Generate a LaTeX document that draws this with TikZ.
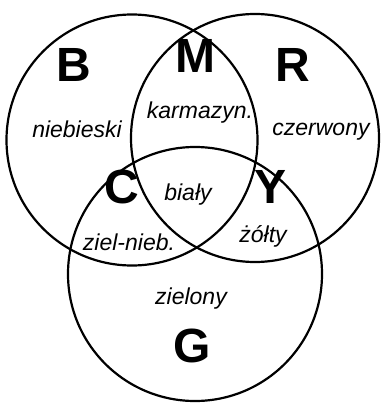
\documentclass[tikz,border=0pt]{standalone}
\usepackage{fontspec}
\setmainfont{Liberation Sans}
\begin{document}
\begin{tikzpicture}[x=1pt,y=-1pt,
  ring/.style={draw=black,line width=2.2pt},
  big/.style={font=\fontsize{48}{50}\selectfont\bfseries,anchor=base,inner sep=0pt},
  region/.style={font=\fontsize{23}{26}\selectfont\itshape,anchor=base,inner sep=0pt}]
  \useasboundingbox[fill=white] (0,0) rectangle (382,407);
  % three colour circles
  \draw[ring] (132,140) circle[radius=125.5];
  \draw[ring] (255,138) circle[radius=124];
  \draw[ring] (195,274) circle[radius=127];
  % primary and secondary letters
  \node[big] (B) at (74,81) {B};
  \node[big] (M) at (195,72) {M};
  \node[big] (R) at (293,81) {R};
  \node[big] (C) at (122,203) {C};
  \node[big] (Y) at (271,203) {Y};
  \node[big] (G) at (192,362) {G};
  % colour names
  \node[region] (nb) at (77,137) {niebieski};
  \node[region] (km) at (200,118) {karmazyn.};
  \node[region] (cz) at (321,135) {czerwony};
  \node[region] (bi) at (188,200) {biały};
  \node[region] (zn) at (129,250) {ziel-nieb.};
  \node[region] (zo) at (263,242) {żółty};
  \node[region] (zl) at (191,304) {zielony};
\end{tikzpicture}
\end{document}
